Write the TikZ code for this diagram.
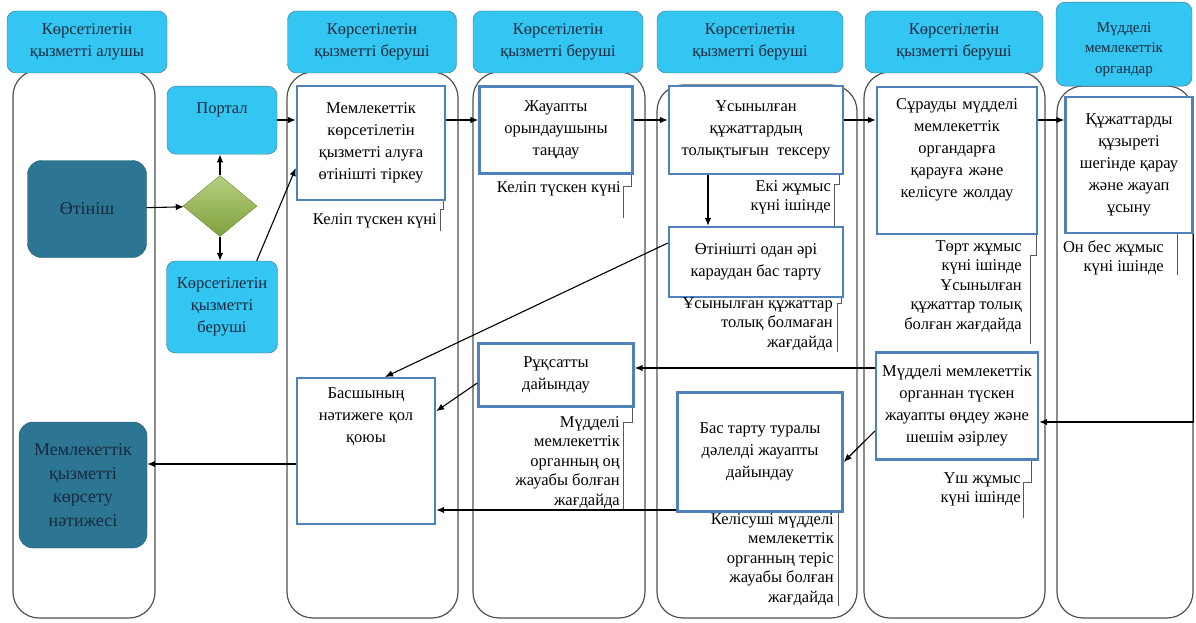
\documentclass[tikz,border=0pt]{standalone}
\usepackage{fontspec}
\setmainfont{Liberation Serif}
\usepackage{tikz}
\usetikzlibrary{
  arrows.meta,
  shapes.geometric
}
\definecolor{hdrblue}{RGB}{52,198,242}
\definecolor{hdrline}{RGB}{70,110,135}
\definecolor{tealbox}{RGB}{44,118,148}
\definecolor{procline}{RGB}{79,129,189}
\definecolor{laneline}{RGB}{80,80,80}
\definecolor{diagreen}{RGB}{150,188,72}
\definecolor{inknavy}{RGB}{25,40,60}

\tikzset{
  lane/.style={draw=laneline, line width=1.2pt, rounded corners=26pt},
  hdr/.style={draw=hdrline, fill=hdrblue, rounded corners=9pt, align=center,
    text=inknavy, inner sep=2pt, font=\fontsize{16.5}{22}\selectfont},
  proc/.style={draw=procline, line width=2.4pt, fill=white, align=center,
    inner sep=3pt, font=\fontsize{16.5}{22}\selectfont},
  term/.style={draw=tealbox!70!black, fill=tealbox, rounded corners=14pt,
    align=center, text=inknavy, font=\fontsize{18}{23.5}\selectfont},
  note/.style={align=right, inner sep=0pt, anchor=north east,
    font=\fontsize{16.5}{19.5}\selectfont},
  brk/.style={draw=black!65, line width=0.8pt},
  arr/.style={-{Latex[length=8pt,width=6.5pt]}, line width=1.1pt}
}

\begin{document}
\begin{tikzpicture}[x=1pt, y=-1pt]
  \def\Ybot{618};
  \def\Yrow{120};
  \useasboundingbox (0,0) rectangle (1196,623);

  % swim lanes
  \draw[lane] (13,70) rectangle (155,\Ybot);
  \draw[lane] (287,72) rectangle (458,\Ybot);
  \draw[lane] (473,72) rectangle (645,\Ybot);
  \draw[lane] (657,85) rectangle (857,\Ybot);
  \draw[lane] (864,72) rectangle (1045,\Ybot);
  \draw[lane] (1057,86) rectangle (1193,\Ybot);

  % headers
  \node[hdr, minimum width=160pt, minimum height=62pt] (h1) at (87,42)
       {Көрсетілетін\\қызметті алушы};
  \node[hdr, minimum width=169pt, minimum height=62pt] (h2) at (372,42)
       {Көрсетілетін\\қызметті беруші};
  \node[hdr, minimum width=170pt, minimum height=62pt] (h3) at (558,42)
       {Көрсетілетін\\қызметті беруші};
  \node[hdr, minimum width=186pt, minimum height=62pt] (h4) at (750,42)
       {Көрсетілетін\\қызметті беруші};
  \node[hdr, minimum width=178pt, minimum height=62pt] (h5) at (954,42)
       {Көрсетілетін\\қызметті беруші};
  \node[hdr, text width=130pt, inner xsep=3pt, text height=28pt, text depth=52pt,
        anchor=north, font=\fontsize{15}{20.5}\selectfont] (h6) at (1124,2)
       {Мүдделі\\мемлекеттік\\органдар};

  % receiver side
  \node[term, minimum width=119pt, minimum height=97pt] (app) at (87,209) {Өтініш};
  \node[term, minimum width=128pt, minimum height=126pt] (res) at (83,485)
       {Мемлекеттік\\қызметті\\көрсету\\нәтижесі};

  \node[hdr, minimum width=110pt, text height=25pt, text depth=39pt, anchor=north]
       (portal) at (222,86) {Портал};
  \node[diamond, draw=diagreen!70!black, top color=diagreen!70!white,
        bottom color=diagreen!85!black, minimum width=74pt, minimum height=61pt,
        inner sep=0pt] (dec) at (220,206) {};
  \node[hdr, minimum width=111pt, minimum height=92pt] (prov) at (222,307)
       {Көрсетілетін\\қызметті\\беруші};

  % process steps
  \node[proc, minimum width=148pt, minimum height=114pt] (reg) at (371,143)
       {Мемлекеттік\\көрсетілетін\\қызметті алуға\\өтінішті тіркеу};
  \node[proc, minimum width=153pt, minimum height=87pt] (exec) at (556,130)
       {Жауапты\\орындаушыны\\таңдау};
  \node[proc, minimum width=174pt, minimum height=88pt] (chk) at (756,130)
       {Ұсынылған\\құжаттардың\\толықтығын\ \ тексеру};
  \node[proc, text width=146pt, inner xsep=7pt, inner ysep=8pt, text height=14pt,
        text depth=117pt, anchor=north] (send) at (957,86)
       {Сұрауды мүдделі\\мемлекеттік\\органдарға\\қарауға және\\келісуге жолдау};
  \node[proc, minimum width=127pt, minimum height=136pt] (cons) at (1129,165)
       {Құжаттарды\\құзыреті\\шегінде қарау\\және жауап\\ұсыну};
  \node[proc, minimum width=174pt, minimum height=70pt] (rej) at (756,262)
       {Өтінішті одан әрі\\караудан бас тарту};
  \node[proc, text width=124pt, inner xsep=7pt, inner ysep=8pt, text height=12pt,
        text depth=118pt, anchor=north] (sign) at (366,377)
       {Басшының\\нәтижеге қол\\қоюы};
  \node[proc, minimum width=155pt, minimum height=63pt] (perm) at (556,375)
       {Рұқсатты\\дайындау};
  \node[proc, minimum width=165pt, minimum height=119pt] (ref) at (760,452)
       {Бас тарту туралы\\дәлелді жауапты\\дайындау};
  \node[proc, minimum width=162pt, minimum height=107pt] (resp) at (957,406)
       {Мүдделі мемлекеттік\\органнан түскен\\жауапты өңдеу және\\шешім әзірлеу};

  % time notes
  \node[note] (n1) at (437,213) {Келіп түскен күні};
  \node[note] (n2) at (621,181) {Келіп түскен күні};
  \node[note] (n3) at (831,180) {Екі жұмыс\\күні ішінде};
  \node[note] (n4) at (833,297) {Ұсынылған құжаттар\\толық болмаған\\жағдайда};
  \node[note] (n5) at (620,416) {Мүдделі\\мемлекеттік\\органның оң\\жауабы болған\\жағдайда};
  \node[note] (n6) at (834,513) {Келісуші мүдделі\\мемлекеттік\\органның теріс\\жауабы болған\\жағдайда};
  \node[note] (n7) at (1022,240) {Төрт жұмыс\\күні ішінде\\Ұсынылған\\құжаттар толық\\болған жағдайда};
  \node[note] (n8) at (1164,240) {Он бес жұмыс\\күні ішінде};
  \node[note] (n9) at (1021,472) {Үш жұмыс\\күні ішінде};

  \draw[brk] ([xshift=-3pt]reg.south east) -- ++(0,8) -| ([xshift=3pt,yshift=-3pt]n1.south east);
  \draw[brk] ([xshift=-2pt]exec.south east) -- ++(0,12) -| ([xshift=2pt,yshift=-22pt]n2.south east);
  \draw[brk] ([xshift=-5pt]chk.south east) -- ++(0,9) -| ([xshift=-10pt]rej.north east);
  \draw[brk] ([xshift=-3pt]rej.south east) -- ++(0,5) -| ([xshift=4pt,yshift=-2pt]n4.south east);
  \draw[brk] ([xshift=-2pt]perm.south east) -- ++(0,15) -| ([xshift=3pt]n5.south east);
  \draw[brk] ([xshift=-5pt]ref.south east) -- ++(0,6) -| ([xshift=4pt]n6.south east);
  \draw[brk] ([xshift=-2pt]send.south east) -- ++(0,20) -| ([xshift=8pt,yshift=-12pt]n7.south east);
  \draw[brk] ([xshift=-16pt]cons.south east) -- ([xshift=-16pt]cons.south east |- n8.south);
  \draw[brk] ([xshift=-8pt]resp.south east) -- ++(0,22) -| ([xshift=2pt,yshift=-12pt]n9.south east);

  % flow
  \draw[arr] (app) -- (dec);
  \draw[arr] (dec.north) -- (dec.north |- portal.south);
  \draw[arr] (dec.south) -- (dec.south |- prov.north);
  \draw[arr] (portal.east |- 0,\Yrow) -- (reg.west |- 0,\Yrow);
  \draw[arr] ([xshift=-21pt]prov.north east) -- ([yshift=-25pt]reg.west);
  \draw[arr] (reg.east |- 0,\Yrow) -- (exec.west |- 0,\Yrow);
  \draw[arr] (exec.east |- 0,\Yrow) -- (chk.west |- 0,\Yrow);
  \draw[arr] (chk.east |- 0,\Yrow) -- (send.west |- 0,\Yrow);
  \draw[arr] (send.east |- 0,\Yrow) -- (cons.west |- 0,\Yrow);
  \draw[arr] ([xshift=-48pt]chk.south) -- ([xshift=-48pt]rej.north);
  \draw[arr] ([yshift=19pt]rej.west) -- ([xshift=19pt]sign.north);
  \draw[arr] ([yshift=-8pt]perm.west) -- ([yshift=40pt]sign.east);
  \draw[arr] (resp.west |- 0,368) -- (perm.east |- 0,368);
  \draw[arr] ([yshift=-25pt]resp.west) -- ([yshift=-10pt]ref.east);
  \draw[arr] (ref.west |- 0,510) -- (sign.east |- 0,510);
  \draw[arr] (sign.west |- 0,464) -- (res.east |- 0,464);
  \draw[arr] (cons.south east) |- (resp.east |- 0,422);
\end{tikzpicture}
\end{document}
